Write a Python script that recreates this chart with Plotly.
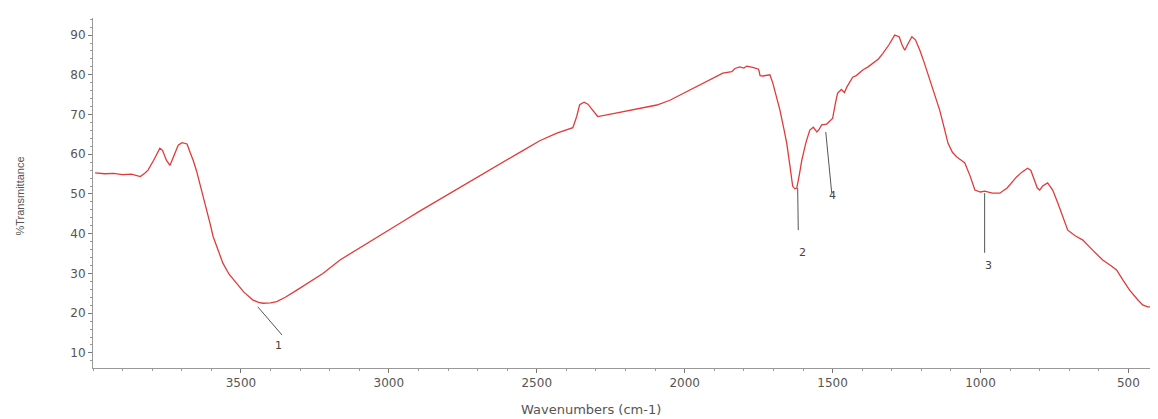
import plotly.graph_objects as go

# Spectrum: wavenumber (cm-1) and % transmittance
wavenumber = [3993, 3960, 3930, 3900, 3870, 3850, 3840, 3825, 3814, 3795, 3774, 3765, 3752, 3740,
              3728, 3712, 3699, 3682, 3672, 3662, 3650, 3639, 3627, 3615, 3604, 3594, 3578, 3561,
              3540, 3514, 3490, 3459, 3440, 3426, 3400, 3379, 3350, 3311, 3270, 3223, 3165, 3100,
              3050, 3000, 2950, 2900, 2850, 2800, 2750, 2700, 2650, 2600, 2550, 2490, 2432, 2378,
              2365, 2355, 2340, 2327, 2310, 2294, 2250, 2209, 2150, 2094, 2050, 2006, 1960, 1925,
              1900, 1871, 1841, 1830, 1814, 1800, 1790, 1770, 1750, 1745, 1736, 1712, 1702, 1690,
              1678, 1665, 1655, 1645, 1635, 1628, 1621, 1612, 1604, 1590, 1577, 1565, 1553, 1545,
              1537, 1520, 1510, 1500, 1490, 1483, 1470, 1460, 1452, 1440, 1432, 1420, 1398, 1380,
              1364, 1345, 1330, 1310, 1290, 1275, 1265, 1256, 1245, 1232, 1220, 1205, 1190, 1171,
              1155, 1138, 1124, 1110, 1095, 1080, 1065, 1053, 1035, 1019, 1000, 986, 960, 935,
              910, 878, 860, 841, 830, 820, 808, 800, 790, 773, 765, 756, 740, 720, 705, 680, 654,
              620, 587, 560, 540, 520, 496, 470, 452, 435, 421, 410, 401]
transmittance = [55.3, 55.1, 55.2, 54.9, 55.0, 54.5, 54.4, 55.2, 56.0, 58.5, 61.5, 61.0, 58.5, 57.2,
                 59.5, 62.3, 62.9, 62.6, 60.5, 58.6, 55.8, 52.7, 49.3, 46.0, 42.5, 39.3, 35.8, 32.6,
                 29.8, 27.4, 25.3, 23.3, 22.7, 22.5, 22.6, 22.9, 24.0, 25.8, 27.8, 30.0, 33.4, 36.3,
                 38.6, 40.9, 43.2, 45.5, 47.7, 50.0, 52.2, 54.4, 56.6, 58.7, 60.8, 63.4, 65.3, 66.7,
                 69.5, 72.5, 73.1, 72.6, 71.0, 69.5, 70.1, 70.7, 71.5, 72.4, 73.6, 75.3, 77.0, 78.3,
                 79.3, 80.4, 80.8, 81.6, 82.0, 81.7, 82.2, 81.9, 81.4, 79.8, 79.7, 80.0, 77.9, 74.5,
                 71.1, 66.5, 62.8, 57.5, 52.0, 51.3, 51.5, 55.0, 58.5, 63.0, 66.1, 66.8, 65.6, 66.3,
                 67.4, 67.6, 68.3, 69.0, 73.0, 75.4, 76.3, 75.5, 76.9, 78.5, 79.4, 79.8, 81.2, 82.0,
                 82.9, 84.0, 85.4, 87.5, 90.0, 89.6, 87.5, 86.2, 87.8, 89.6, 88.8, 86.2, 83.0, 78.7,
                 75.0, 71.1, 67.0, 62.8, 60.5, 59.3, 58.5, 57.8, 54.5, 51.0, 50.5, 50.7, 50.2, 50.2,
                 51.5, 54.3, 55.5, 56.5, 56.0, 54.0, 51.5, 51.0, 52.0, 52.8, 52.0, 51.0, 48.0, 44.0,
                 40.9, 39.5, 38.4, 35.8, 33.4, 32.0, 30.9, 28.5, 25.8, 23.5, 22.1, 21.6, 21.6, 22.5,
                 23.3]

# Peak labels with leader lines
peak_labels = ["1", "2", "3", "4"]
peak_wn = [3443, 1618, 986, 1523]
peak_t = [21.6, 51.5, 50.2, 65.6]
leader_end_wn = [3361, 1616, 986, 1503]
leader_end_t = [14.5, 40.9, 35.2, 50.3]
label_wn = [3372, 1601, 973, 1499]
label_t = [11.8, 35.4, 31.9, 49.5]

x_ticks = [3500, 3000, 2500, 2000, 1500, 1000, 500]
y_ticks = [10, 20, 30, 40, 50, 60, 70, 80, 90]

fig = go.Figure()
fig.add_trace(go.Scatter(x=wavenumber, y=transmittance, mode="lines",
                         line=dict(color="#e23a3a", width=1.3), hoverinfo="skip",
                         showlegend=False))

for lab, pw, pt, ew, et, lw, lt in zip(peak_labels, peak_wn, peak_t, leader_end_wn,
                                      leader_end_t, label_wn, label_t):
    fig.add_shape(type="line", x0=pw, y0=pt, x1=ew, y1=et, xref="x", yref="y",
                  line=dict(color="#555555", width=1))
    fig.add_annotation(x=lw, y=lt, xref="x", yref="y", text=lab, showarrow=False,
                       font=dict(family="DejaVu Sans", size=11, color="#444444"))

tick_font = dict(family="DejaVu Sans", size=12, color="#555555")
fig.update_xaxes(range=[4000, 400], tickvals=x_ticks, ticks="outside", ticklen=4,
                 tickcolor="#777777", showline=True, linecolor="#999999", linewidth=1,
                 showgrid=False, zeroline=False, tickfont=tick_font,
                 minor=dict(dtick=100, ticks="outside", ticklen=2, tickcolor="#999999"))
fig.update_yaxes(range=[6.2, 94.3], tickvals=y_ticks, ticks="outside", ticklen=4,
                 tickcolor="#777777", showline=True, linecolor="#999999", linewidth=1,
                 showgrid=False, zeroline=False, tickfont=tick_font,
                 minor=dict(dtick=2, ticks="outside", ticklen=2, tickcolor="#999999"))

fig.add_annotation(x=-(93 - 19) / 1065, y=0.49, xref="paper", yref="paper",
                   xanchor="center", yanchor="middle",
                   text="%Transmittance", textangle=-90, showarrow=False,
                   font=dict(family="Liberation Sans", size=11, color="#555555"))
fig.add_annotation(x=(591 - 93) / 1065, y=-(409 - 368) / 350, xref="paper", yref="paper",
                   xanchor="center", yanchor="middle",
                   text="Wavenumbers (cm-1)", showarrow=False,
                   font=dict(family="DejaVu Sans", size=13, color="#555555"))

# The page body adds an 8px offset, so the figure is sized to fit within the window
fig.update_layout(width=1150, height=411, margin=dict(l=85, r=0, t=10, b=51),
                  plot_bgcolor="white", paper_bgcolor="white")
fig.write_html("out.html")
